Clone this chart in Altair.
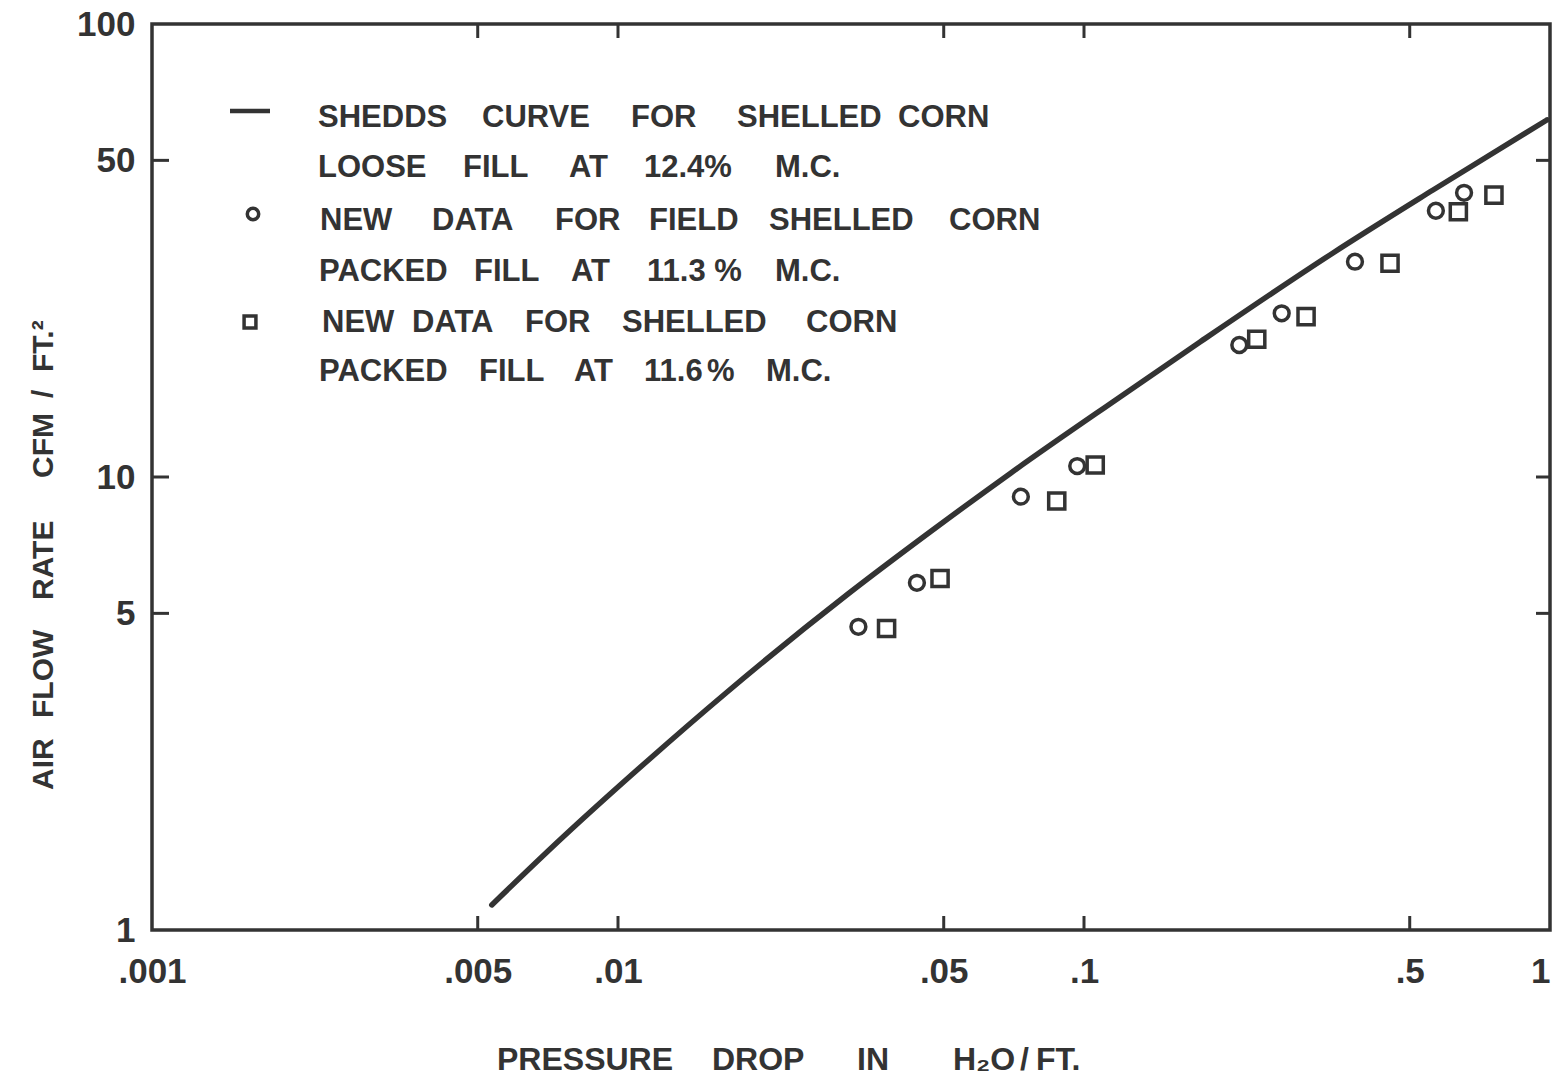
import altair as alt
import pandas as pd

# ---------------- data ----------------
# Shedd's curve for shelled corn (pressure drop in. H2O/ft, air flow cfm/ft^2)
curve_p = [0.00536, 0.00762, 0.01143, 0.01705, 0.03115, 0.04672, 0.0697, 0.1195, 0.1774, 0.3422, 0.561, 0.985]
curve_q = [1.136, 1.604, 2.337, 3.336, 5.516, 7.56, 10.21, 15.02, 19.86, 31.23, 43.0, 61.4]

# new data, field shelled corn, packed fill 11.3 % m.c. (circles)
circle_p = [0.0328, 0.0438, 0.0732, 0.0967, 0.2154, 0.2656, 0.3815, 0.569, 0.654]
circle_q = [4.67, 5.84, 9.05, 10.57, 19.56, 22.98, 29.88, 38.7, 42.4]

# new data, shelled corn, packed fill 11.6 % m.c. (squares)
square_p = [0.0377, 0.0491, 0.0874, 0.1057, 0.2348, 0.2996, 0.4536, 0.6358, 0.758]
square_q = [4.63, 5.97, 8.85, 10.63, 20.14, 22.59, 29.63, 38.5, 41.9]

x_tick_values = [0.001, 0.005, 0.01, 0.05, 0.1, 0.5, 1]
x_tick_labels = [".001", ".005", ".01", ".05", ".1", ".5", "1"]
y_tick_values = [1, 5, 10, 50, 100]
y_tick_labels = ["1", "5", "10", "50", "100"]
x_inner_ticks = [0.005, 0.01, 0.05, 0.1, 0.5]
y_inner_ticks = [5, 10, 50]

legend_lines = [
    ["SHEDDS", "CURVE", "FOR", "SHELLED", "CORN"],
    ["LOOSE", "FILL", "AT", "12.4%", "M.C."],
    ["NEW", "DATA", "FOR", "FIELD", "SHELLED", "CORN"],
    ["PACKED", "FILL", "AT", "11.3 %", "M.C."],
    ["NEW", "DATA", "FOR", "SHELLED", "CORN"],
    ["PACKED", "FILL", "AT", "11.6", "%", "M.C."],
]
x_title_words = ["PRESSURE", "DROP", "IN", "H\u2082O", "/", "FT."]
y_title_words = ["AIR", "FLOW", "RATE", "CFM", "/", "FT.\u00b2"]

# ---------------- layout (page pixels) ----------------
PAD_L, PAD_T, PAD_R, PAD_B = 152, 24, 6, 158
W, H = 1398, 906
INK = "#333333"
FONT = "Liberation Sans"

legend_word_x = [
    [318, 482, 631, 737, 898],
    [318, 463, 569, 644, 775],
    [320, 432, 555, 649, 769, 949],
    [319, 474, 571, 647, 775],
    [322, 412, 525, 622, 806],
    [319, 479, 574, 644, 707, 766],
]
legend_line_y = [127, 177, 230, 281, 332, 381]
x_title_x = [497, 712, 857, 953, 1020, 1036]
x_title_y = 1070
y_title_y = [790, 718, 600, 478, 398, 372]
y_title_x = 53

# ---------------- frames ----------------
curve_df = pd.DataFrame({"p": curve_p, "q": curve_q})
circ_df = pd.DataFrame({"p": circle_p, "q": circle_q})
sq_df = pd.DataFrame({"p": square_p, "q": square_q})
xt_df = pd.DataFrame({"p": x_inner_ticks})
yt_df = pd.DataFrame({"q": y_inner_ticks})

leg_rows = []
for words, xs, y in zip(legend_lines, legend_word_x, legend_line_y):
    for w, x in zip(words, xs):
        leg_rows.append({"w": w, "px": x - PAD_L, "py": y - PAD_T})
leg_df = pd.DataFrame(leg_rows)
xt_words_df = pd.DataFrame({"w": x_title_words,
                            "px": [x - PAD_L for x in x_title_x],
                            "py": [x_title_y - PAD_T] * len(x_title_words)})
yt_words_df = pd.DataFrame({"w": y_title_words,
                            "px": [y_title_x - PAD_L] * len(y_title_words),
                            "py": [y - PAD_T for y in y_title_y]})


def label_expr(values, labels):
    expr = "''"
    for v, l in reversed(list(zip(values, labels))):
        expr = f"abs(datum.value - {v}) < {v} * 1e-6 ? '{l}' : ({expr})"
    return expr


x_scale = alt.Scale(type="log", domain=[0.001, 1], nice=False)
y_scale = alt.Scale(type="log", domain=[1, 100], nice=False)

x_axis = alt.Axis(values=x_tick_values, labelExpr=label_expr(x_tick_values, x_tick_labels),
                  ticks=False, domain=False, grid=False, labelPadding=24,
                  labelFont=FONT, labelFontSize=35, labelFontWeight="bold", labelColor=INK,
                  labelAlign={"condition": {"test": "datum.value > 0.9", "value": "right"},
                              "value": "center"},
                  labelFlush=False, labelOverlap=False, title=None)
y_axis = alt.Axis(values=y_tick_values, labelExpr=label_expr(y_tick_values, y_tick_labels),
                  ticks=False, domain=False, grid=False, labelPadding=17,
                  labelFont=FONT, labelFontSize=35, labelFontWeight="bold", labelColor=INK,
                  labelFlush=False, labelOverlap=False, title=None)

curve = alt.Chart(curve_df).mark_line(color=INK, strokeWidth=5.5, interpolate="monotone",
                                      strokeCap="round").encode(
    x=alt.X("p:Q", scale=x_scale, axis=x_axis),
    y=alt.Y("q:Q", scale=y_scale, axis=y_axis),
)
circles = alt.Chart(circ_df).mark_point(shape="circle", filled=False, size=220,
                                        strokeWidth=3.5, color=INK, opacity=1).encode(
    x="p:Q", y="q:Q")
squares = alt.Chart(sq_df).mark_point(shape="square", filled=False, size=260,
                                      strokeWidth=3.5, color=INK, opacity=1).encode(
    x="p:Q", y="q:Q")

TL = 14
tick_bottom = alt.Chart(xt_df).mark_rule(color=INK, strokeWidth=3).encode(
    x="p:Q", y=alt.value(H), y2=alt.value(H - TL))
tick_top = alt.Chart(xt_df).mark_rule(color=INK, strokeWidth=3).encode(
    x="p:Q", y=alt.value(0), y2=alt.value(TL))
tick_left = alt.Chart(yt_df).mark_rule(color=INK, strokeWidth=3).encode(
    y="q:Q", x=alt.value(0), x2=alt.value(TL + 3))
tick_right = alt.Chart(yt_df).mark_rule(color=INK, strokeWidth=3).encode(
    y="q:Q", x=alt.value(W), x2=alt.value(W - TL))

one = alt.Data(values=[{"k": 0}])
frame = alt.Chart(one).mark_rect(fill="transparent", stroke=INK, strokeWidth=3.5).encode(
    x=alt.value(0), x2=alt.value(W), y=alt.value(0), y2=alt.value(H))
leg_line = alt.Chart(one).mark_rule(color=INK, strokeWidth=4.5).encode(
    x=alt.value(230 - PAD_L), x2=alt.value(270 - PAD_L), y=alt.value(111 - PAD_T))
leg_circle = alt.Chart(one).mark_point(shape="circle", filled=False, size=130, strokeWidth=3.5,
                                       color=INK, opacity=1).encode(
    x=alt.value(253 - PAD_L), y=alt.value(214 - PAD_T))
leg_square = alt.Chart(one).mark_point(shape="square", filled=False, size=140, strokeWidth=3.5,
                                       color=INK, opacity=1).encode(
    x=alt.value(250 - PAD_L), y=alt.value(322 - PAD_T))

inner = alt.layer(frame, curve, circles, squares, tick_bottom, tick_top, tick_left, tick_right,
                  leg_line, leg_circle, leg_square)

px_enc = alt.X("px:Q", scale=None, axis=None)
py_enc = alt.Y("py:Q", scale=None, axis=None)

legend_text = alt.Chart(leg_df).mark_text(align="left", baseline="alphabetic", font=FONT,
                                          fontSize=31, fontWeight="bold", color=INK).encode(
    x=px_enc, y=py_enc, text="w:N")
x_title = alt.Chart(xt_words_df).mark_text(align="left", baseline="alphabetic", font=FONT,
                                           fontSize=32, fontWeight="bold", color=INK).encode(
    x=px_enc, y=py_enc, text="w:N")
y_title = alt.Chart(yt_words_df).mark_text(align="left", baseline="alphabetic", font=FONT,
                                           fontSize=30, fontWeight="bold", color=INK,
                                           angle=270).encode(
    x=px_enc, y=py_enc, text="w:N")

chart = alt.layer(inner, legend_text, x_title, y_title).resolve_scale(
    x="independent", y="independent"
).properties(
    width=W, height=H,
    padding={"left": PAD_L, "top": PAD_T, "right": PAD_R, "bottom": PAD_B},
    autosize=alt.AutoSizeParams(type="none"),
    background="white",
).configure_view(stroke=None)

chart.save("out.html", embed_options={"renderer": "svg", "actions": False})
